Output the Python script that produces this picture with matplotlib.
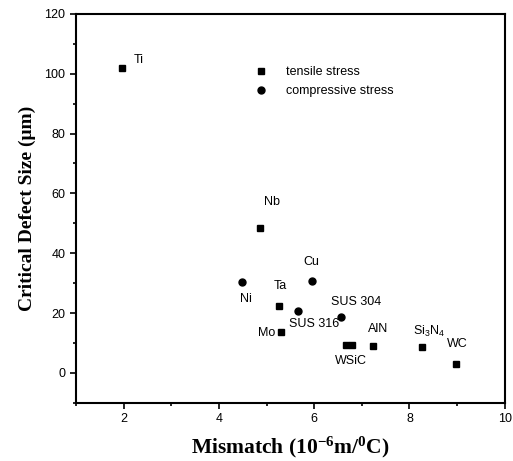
import matplotlib
matplotlib.use("Agg")
import matplotlib.pyplot as plt
from matplotlib.ticker import MultipleLocator

plt.rcParams['mathtext.default'] = 'regular'

# tensile stress (squares)
tens_names = ["Ti", "Nb", "Ta", "Mo", "W", "SiC", "AlN", "Si3N4", "WC"]
tens_x = [1.96, 4.87, 5.27, 5.31, 6.66, 6.80, 7.23, 8.27, 8.98]
tens_y = [102.0, 48.3, 22.3, 13.7, 9.3, 9.3, 9.0, 8.7, 3.0]

# compressive stress (circles)
comp_names = ["Ni", "Cu", "SUS 316", "SUS 304"]
comp_x = [4.48, 5.96, 5.67, 6.56]
comp_y = [30.3, 30.7, 20.7, 18.7]

# label text and where it sits (centre of text)
lab_text = ["Ti", "Nb", "Cu", "Ta", "Ni", "SUS 304", "SUS 316", "Mo",
            "WSiC", "AlN", "Si$_3$N$_4$", "WC"]
lab_x = [2.32, 5.12, 5.94, 5.29, 4.56, 6.88, 6.00, 5.00, 6.77, 7.35, 8.42, 9.00]
lab_y = [104.7, 57.0, 37.0, 29.0, 24.7, 23.7, 16.3, 13.3, 4.0, 14.7, 14.0, 9.7]

fig = plt.figure(figsize=(5.13, 4.61), dpi=100)
ax = fig.add_axes([0.148, 0.126, 0.836, 0.844])

ax.plot(tens_x, tens_y, 's', color='black', ms=5, label='tensile stress')
ax.plot(comp_x, comp_y, 'o', color='black', ms=5, label='compressive stress')

for t, x, y in zip(lab_text, lab_x, lab_y):
    ax.text(x, y, t, ha='center', va='center', fontsize=9,
            family='Liberation Sans')

ax.set_xlim(1, 10)
ax.set_ylim(-10, 120)
ax.xaxis.set_major_locator(MultipleLocator(2))
ax.xaxis.set_minor_locator(MultipleLocator(1))
ax.yaxis.set_major_locator(MultipleLocator(20))
ax.yaxis.set_minor_locator(MultipleLocator(10))
ax.tick_params(which='both', direction='out', top=False, right=False,
               labelsize=9, width=1.2)
ax.tick_params(which='major', length=4)
ax.tick_params(which='minor', length=2.5)
for lbl in ax.get_xticklabels() + ax.get_yticklabels():
    lbl.set_family('Liberation Sans')
for s in ax.spines.values():
    s.set_linewidth(1.5)

ax.set_xlabel('Mismatch (10$^{-6}$m/$^{0}$C)', fontsize=15.5, fontweight='bold',
              family='Liberation Serif', labelpad=7)
ax.set_ylabel('Critical Defect Size (\u03bcm)', fontsize=14, fontweight='bold',
              family='Liberation Serif', labelpad=6)

ax.legend(loc='upper left', bbox_to_anchor=(0.39, 0.895), frameon=False,
          prop={'family': 'Liberation Sans', 'size': 9}, handletextpad=1.5,
          labelspacing=0.6, handlelength=1)

fig.savefig('out.png', dpi=100)
